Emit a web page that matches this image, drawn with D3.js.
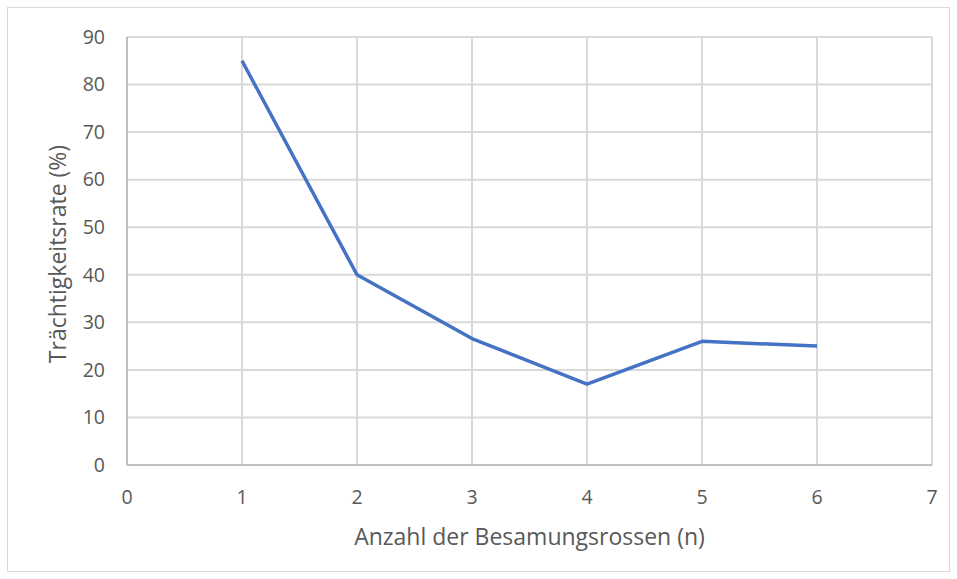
<!DOCTYPE html>
<html>
<head>
<meta charset="utf-8">
<script src="https://cdn.jsdelivr.net/npm/d3@7"></script>
<style>
  body { margin: 0; background: #fff; }
  text { font-family: "Open Sans", "Noto Sans", sans-serif; fill: #595959; }
</style>
</head>
<body>
<div id="chart"></div>
<script>
// data
const rossen = [1, 2, 3, 4, 5, 6];
const rate = [85, 40, 26.6, 17, 26, 25];
const xTicks = [0, 1, 2, 3, 4, 5, 6, 7];
const yTicks = [0, 10, 20, 30, 40, 50, 60, 70, 80, 90];

const width = 957;
const height = 579;
const margin = { top: 37, right: 25, bottom: 114, left: 127 };

const svg = d3.select('#chart')
  .append('svg')
  .attr('width', width)
  .attr('height', height);

// outer chart border
svg.append('rect')
  .attr('x', 7.5).attr('y', 7.5)
  .attr('width', 942).attr('height', 564)
  .style('fill', 'none')
  .style('stroke', '#d9d9d9')
  .style('stroke-width', '1px');

const x = d3.scaleLinear().domain([0, 7]).range([margin.left, width - margin.right]);
const y = d3.scaleLinear().domain([0, 90]).range([height - margin.bottom, margin.top]);

// gridlines
svg.append('g')
  .selectAll('line')
  .data(yTicks.slice(1))
  .enter()
  .append('line')
  .attr('x1', x(0)).attr('x2', x(7))
  .attr('y1', (d) => y(d)).attr('y2', (d) => y(d))
  .style('stroke', '#d9d9d9')
  .style('stroke-width', '2px');

svg.append('g')
  .selectAll('line')
  .data(xTicks.slice(1))
  .enter()
  .append('line')
  .attr('x1', (d) => x(d)).attr('x2', (d) => x(d))
  .attr('y1', y(0)).attr('y2', y(90))
  .style('stroke', '#d9d9d9')
  .style('stroke-width', '2px');

// axes lines
svg.append('line')
  .attr('x1', x(0)).attr('x2', x(7))
  .attr('y1', y(0)).attr('y2', y(0))
  .style('stroke', '#bfbfbf')
  .style('stroke-width', '2px');
svg.append('line')
  .attr('x1', x(0)).attr('x2', x(0))
  .attr('y1', y(0)).attr('y2', y(90))
  .style('stroke', '#bfbfbf')
  .style('stroke-width', '2px');

// tick labels
svg.append('g')
  .selectAll('text')
  .data(yTicks)
  .enter()
  .append('text')
  .attr('x', x(0) - 22)
  .attr('y', (d) => y(d))
  .attr('dy', '0.35em')
  .attr('text-anchor', 'end')
  .attr('font-size', '19.5px')
  .text((d) => d);

svg.append('g')
  .selectAll('text')
  .data(xTicks)
  .enter()
  .append('text')
  .attr('x', (d) => x(d))
  .attr('y', y(0) + 32)
  .attr('dy', '0.35em')
  .attr('text-anchor', 'middle')
  .attr('font-size', '19.5px')
  .text((d) => d);

// axis titles
svg.append('text')
  .attr('x', (x(0) + x(7)) / 2)
  .attr('y', 537)
  .attr('dy', '0.35em')
  .attr('text-anchor', 'middle')
  .attr('font-size', '23px')
  .text('Anzahl der Besamungsrossen (n)');

svg.append('text')
  .attr('transform', `translate(58, ${(y(0) + y(90)) / 2 + 3}) rotate(-90)`)
  .attr('dy', '0.35em')
  .attr('text-anchor', 'middle')
  .attr('font-size', '23px')
  .text('Trächtigkeitsrate (%)');

// data line
const line = d3.line()
  .x((d, i) => x(rossen[i]))
  .y((d) => y(d));

svg.append('path')
  .datum(rate)
  .attr('d', line)
  .style('fill', 'none')
  .style('stroke', '#4472c4')
  .style('stroke-width', '3.5px')
  .style('stroke-linejoin', 'round');
</script>
</body>
</html>
